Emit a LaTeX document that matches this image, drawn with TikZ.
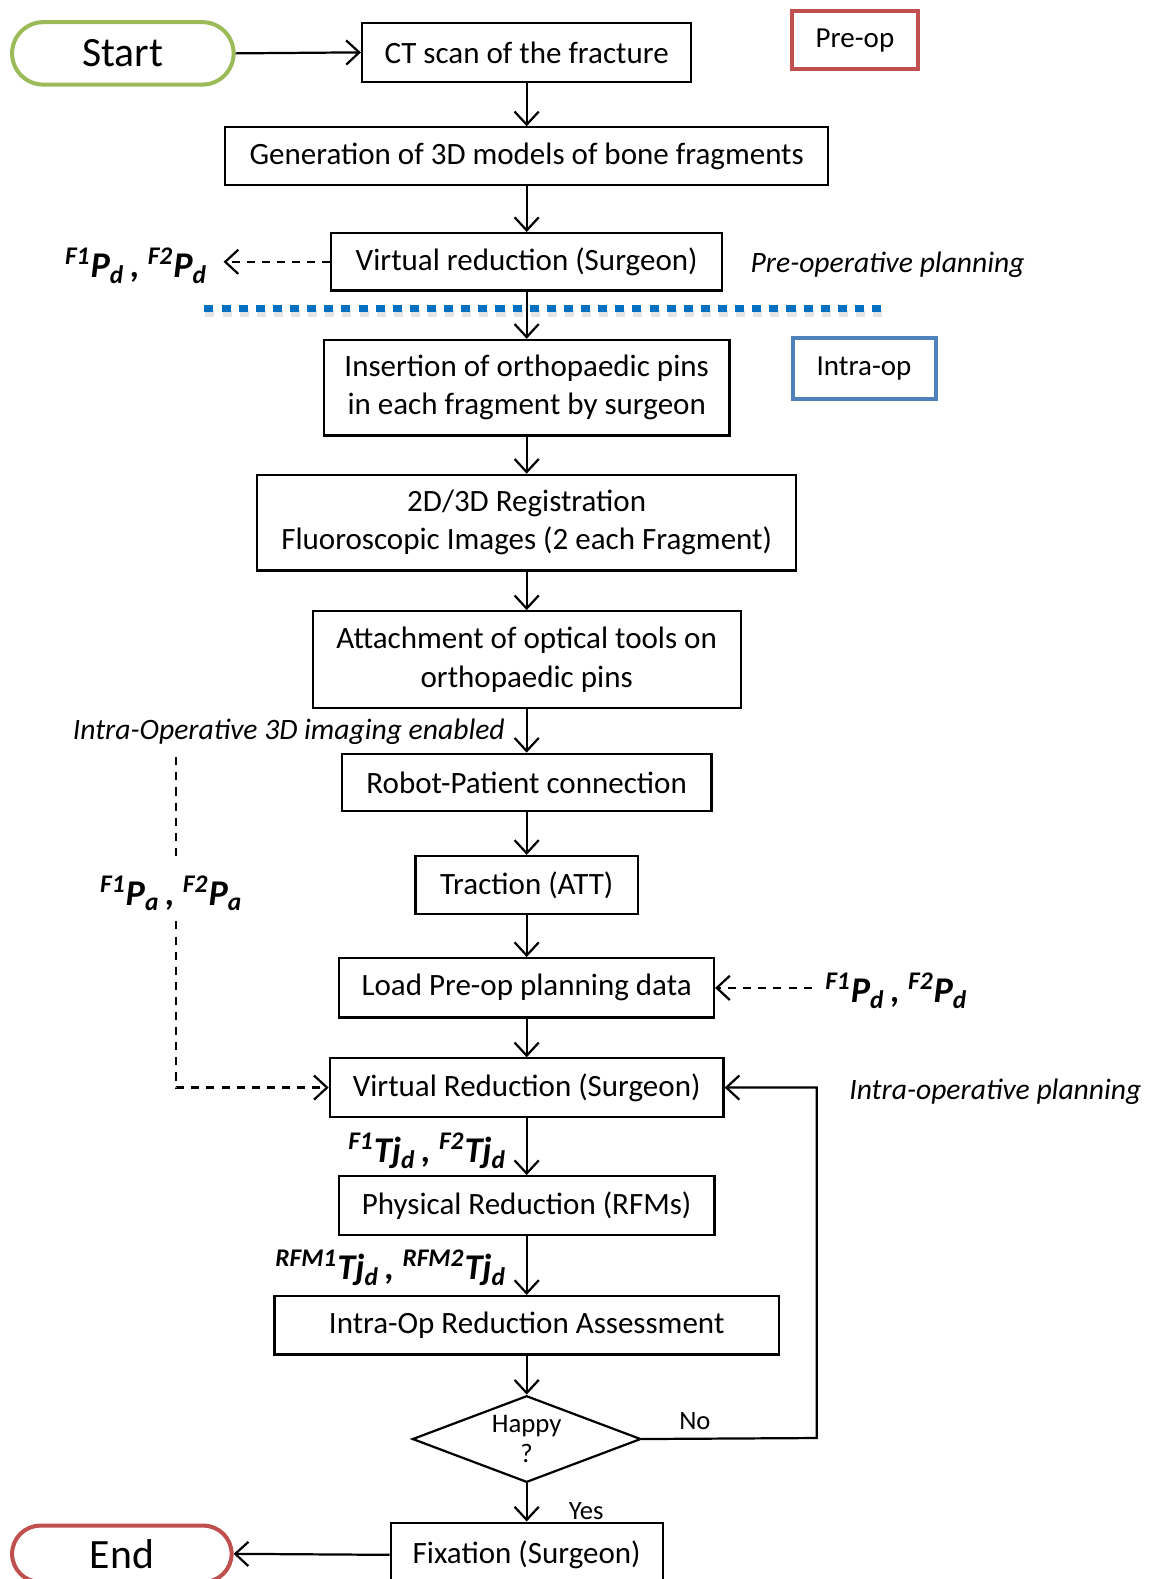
\documentclass[tikz,border=0pt]{standalone}
\usepackage{fontspec}
\setmainfont{Carlito}
\usetikzlibrary{arrows.meta,shapes.geometric,shapes.misc}
\definecolor{cgreen}{HTML}{9BBB59}
\definecolor{cred}{HTML}{C0504D}
\definecolor{cblue}{HTML}{4F81BD}
\definecolor{dotblue}{HTML}{0070C0}
\begin{document}
\begin{tikzpicture}[x=0.5pt,y=-0.5pt,
  stepbox/.style={draw, line width=1.1pt, inner sep=0pt, align=center, font=\fontsize{15.4}{19}\selectfont},
  arr/.style={line width=1.1pt, -{Straight Barb[length=6.5pt,width=12pt,line width=1.1pt]}},
  dsh/.style={line width=1.1pt, dash pattern=on 4pt off 3.5pt},
  term/.style={rounded rectangle, draw, line width=2pt, inner sep=0pt, font=\fontsize{20.7}{22}\selectfont},
  tagbox/.style={draw, line width=2pt, inner sep=0pt, font=\fontsize{14.4}{16}\selectfont},
  mlabel/.style={inner sep=0pt, font=\fontsize{18}{20}\selectfont\bfseries\itshape},
  ital/.style={inner sep=0pt, font=\fontsize{14.7}{16}\selectfont\itshape},
  small/.style={inner sep=0pt, font=\fontsize{13.2}{15}\selectfont}]
\useasboundingbox (0,0) rectangle (1141,1568);
\fill[white] (0,0) rectangle (1141,1568);

% dotted separator
\draw[line width=3.5pt, gray!35, opacity=0.6, dash pattern=on 4.5pt off 4pt] (204,311) -- (883,311);
\draw[line width=3.5pt, dotblue, dash pattern=on 4.5pt off 4pt] (203,306) -- (882,306);

% terminals and tags
\node[term, draw=cgreen, minimum width=110pt, minimum height=31pt] (start) at (122,53) {Start};
\node[term, draw=cred, minimum width=109pt, minimum height=28pt] (end) at (121,1543) {End};
\node[tagbox, draw=cred, minimum width=62.5pt, minimum height=29pt] (preop) at (849,40) {Pre-op};
\node[tagbox, draw=cblue, minimum width=71pt, minimum height=30pt] (intraop) at (858,366) {Intra-op};

% process boxes
\node[stepbox, minimum width=163.5pt, minimum height=29.5pt] (ct) at (523,52) {CT scan of the fracture};
\node[stepbox, minimum width=299.5pt, minimum height=28.5pt] (gen) at (523,155) {Generation of 3D models of bone fragments};
\node[stepbox, minimum width=194pt, minimum height=28.5pt] (vr) at (523,260) {Virtual reduction (Surgeon)};
\node[stepbox, minimum width=201.5pt, minimum height=47.5pt] (ins) at (523,385) {Insertion of orthopaedic pins\\in each fragment by surgeon};
\node[stepbox, minimum width=267.5pt, minimum height=47.5pt] (reg) at (523,519) {2D/3D Registration\\Fluoroscopic Images (2 each Fragment)};
\node[stepbox, minimum width=212.5pt, minimum height=48pt] (att) at (523,655) {Attachment of optical tools on\\orthopaedic pins};
\node[stepbox, minimum width=183.5pt, minimum height=28.5pt] (rob) at (523,777) {Robot-Patient connection};
\node[stepbox, minimum width=110.5pt, minimum height=29pt] (trac) at (523,879) {Traction (ATT)};
\node[stepbox, minimum width=186pt, minimum height=29.5pt] (load) at (523,981) {Load Pre-op planning data};
\node[stepbox, minimum width=195.5pt, minimum height=29pt] (vr2) at (523,1080) {Virtual Reduction (Surgeon)};
\node[stepbox, minimum width=186.5pt, minimum height=29pt] (phys) at (523,1197) {Physical Reduction (RFMs)};
\node[stepbox, minimum width=250.5pt, minimum height=29pt] (assess) at (523,1316) {Intra-Op Reduction Assessment};
\node[diamond, draw, line width=1.1pt, inner sep=0pt, aspect=2.64, minimum width=113.5pt, minimum height=43pt, align=center, font=\fontsize{13.3}{14.5}\selectfont] (happy) at (523,1429) {Happy\\?};
\node[stepbox, minimum width=135pt, minimum height=32pt] (fix) at (523,1544) {Fixation (Surgeon)};

% labels
\node[mlabel, anchor=east] (lpd1) at (206,264) {\textsuperscript{F1}P\textsubscript{d}\,, \textsuperscript{F2}P\textsubscript{d}};
\node[ital, anchor=west] (lpre) at (745,263) {Pre-operative planning};
\node[ital, anchor=west] (limg) at (72,727) {Intra-Operative 3D imaging enabled};
\node[mlabel, anchor=east] (lpd2) at (961,984) {\textsuperscript{F1}P\textsubscript{d}\,, \textsuperscript{F2}P\textsubscript{d}};
\node[ital, anchor=west] (lintra) at (843,1084) {Intra-operative planning};
\node[mlabel, anchor=east] (ltj) at (503,1143) {\textsuperscript{F1}Tj\textsubscript{d}\,, \textsuperscript{F2}Tj\textsubscript{d}};
\node[mlabel, anchor=east] (lrfm) at (503,1259) {\textsuperscript{RFM1}Tj\textsubscript{d}\,, \textsuperscript{RFM2}Tj\textsubscript{d}};
\node[small] (lno) at (690,1411) {No};
\node[small] (lyes) at (582,1501) {Yes};

% coordinates
\coordinate (pdtip) at (222,260);
\coordinate (pdstart) at (806,981);
\coordinate (dtop) at (175,752);
\coordinate (dcorner) at (175,1080);
\coordinate (fbk) at (811,1428);

% main flow
\draw[arr] (start.east) -- (ct.west);
\draw[arr] (ct.south) -- (gen.north);
\draw[arr] (gen.south) -- (vr.north);
\draw[arr] (vr.south) -- (ins.north);
\draw[arr] (ins.south) -- (reg.north);
\draw[arr] (reg.south) -- (att.north);
\draw[arr] (att.south) -- (rob.north);
\draw[arr] (rob.south) -- (trac.north);
\draw[arr] (trac.south) -- (load.north);
\draw[arr] (load.south) -- (vr2.north);
\draw[arr] (vr2.south) -- (phys.north);
\draw[arr] (phys.south) -- (assess.north);
\draw[arr] (assess.south) -- (happy.north);
\draw[arr] (happy.south) -- (fix.north);
\draw[arr] (fix.west) -- (end.east);
\draw[arr] (happy.east) -- (fbk) |- (vr2.east);

% dashed connectors
\draw[dsh, -{Straight Barb[length=6.5pt,width=12pt,line width=1.1pt]}] (vr.west) -- (pdtip);
\draw[dsh, -{Straight Barb[length=6.5pt,width=12pt,line width=1.1pt]}] (pdstart) -- (load.east);
\draw[dsh] (dtop) -- (175,855);
\draw[dsh, -{Straight Barb[length=6.5pt,width=12pt,line width=1.1pt]}] (175,915) -- (dcorner) -- (vr2.west);
\node[mlabel] (lpa) at (170,887) {\textsuperscript{F1}P\textsubscript{a}\,, \textsuperscript{F2}P\textsubscript{a}};
\end{tikzpicture}
\end{document}
